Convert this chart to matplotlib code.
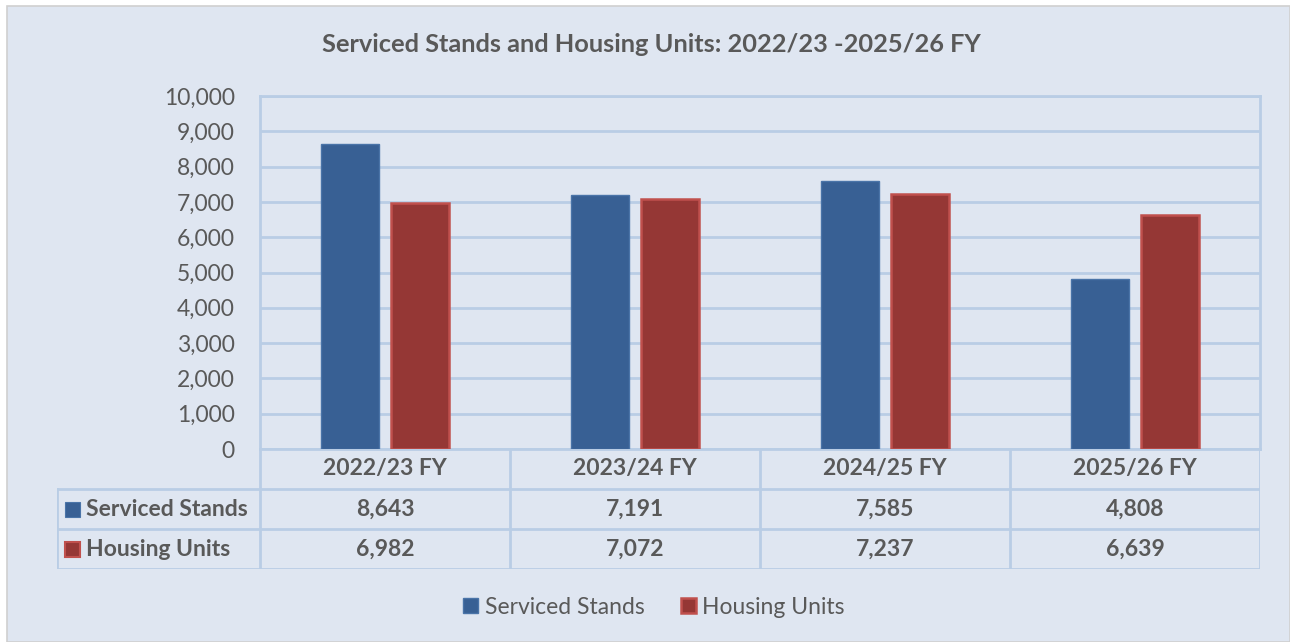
import matplotlib
matplotlib.use("Agg")
import matplotlib.pyplot as plt
from matplotlib.patches import Rectangle
from matplotlib.ticker import FuncFormatter, MultipleLocator

categories = ["2022/23 FY", "2023/24 FY", "2024/25 FY", "2025/26 FY"]
series_names = ["Serviced Stands", "Housing Units"]
serviced_stands = [8643, 7191, 7585, 4808]
housing_units = [6982, 7072, 7237, 6639]
title = "Serviced Stands and Housing Units: 2022/23 -2025/26 FY"

plt.rcParams['font.family'] = ['Lato', 'DejaVu Sans']

W, H = 1290, 642
DPI = 100
fig = plt.figure(figsize=(W / DPI, H / DPI), dpi=DPI, facecolor="white")

BG = "#dfe6f1"
GRID = "#b9cde5"
TXT = "#595959"
BLUE = "#386094"
BLUE_E = "#4a74a8"
RED = "#953735"
RED_E = "#c0504d"
FS = 16.5

def fx(px):
    return px / W

def fy(py):
    return 1 - py / H

# chart area background
bg = Rectangle((fx(7), 0), 1 - fx(7), fy(6), transform=fig.transFigure,
               facecolor=BG, edgecolor="#d0d0d0", linewidth=1.2, zorder=-10)
fig.patches.append(bg)

# main axes
L, R, T, B = 260, 1260, 96, 449
ax = fig.add_axes([fx(L), fy(B), fx(R) - fx(L), fy(T) - fy(B)])
ax.patch.set_alpha(0)
n = len(categories)
xs = list(range(n))
bw = 0.232
off = 0.141
ax.bar([x - off for x in xs], serviced_stands, width=bw, color=BLUE, edgecolor=BLUE_E,
       linewidth=1, zorder=3, label=series_names[0])
ax.bar([x + off for x in xs], housing_units, width=bw, color=RED, edgecolor=RED_E,
       linewidth=1.8, zorder=3, label=series_names[1])
ax.set_xlim(-0.5, n - 0.5)
ax.set_ylim(0, 10000)
ax.yaxis.set_major_locator(MultipleLocator(1000))
ax.yaxis.set_major_formatter(FuncFormatter(lambda v, p: f"{int(v):,}"))
ax.grid(axis="y", color=GRID, linewidth=2, zorder=0)
ax.tick_params(axis="y", length=0, pad=18, labelsize=FS, labelcolor=TXT)
ax.tick_params(axis="x", length=0, labelbottom=False)
for s in ["left", "right", "top", "bottom"]:
    ax.spines[s].set_color(GRID)
    ax.spines[s].set_linewidth(2)
ax.set_axisbelow(True)

# title
fig.text(fx(651), fy(45), title, ha="center", va="center", fontsize=18.3,
         fontweight="bold", color=TXT)

# data table
TL, TB = 57, 569
tax = fig.add_axes([fx(TL), fy(TB), fx(R) - fx(TL), fy(B) - fy(TB)])
tax.set_axis_off()
cat_px = (R - L) / n
left_units = -0.5 - (L - TL) / cat_px
tax.set_xlim(left_units, n - 0.5)
tax.set_ylim(3, 0)
lw = 2
for yy in [1, 2, 3]:
    tax.plot([left_units, n - 0.5], [yy, yy], color=GRID, lw=lw, solid_capstyle="projecting")
for xx in [i - 0.5 for i in range(n + 1)]:
    tax.plot([xx, xx], [0, 3], color=GRID, lw=lw)
tax.plot([left_units, left_units], [1, 3], color=GRID, lw=lw)

for i, c in enumerate(categories):
    tax.text(i, 0.5, c, ha="center", va="center", fontsize=FS, fontweight="bold", color=TXT)
    tax.text(i, 1.5, f"{serviced_stands[i]:,}", ha="center", va="center", fontsize=FS,
             fontweight="bold", color=TXT)
    tax.text(i, 2.5, f"{housing_units[i]:,}", ha="center", va="center", fontsize=FS,
             fontweight="bold", color=TXT)

sq_w = 15 / cat_px
sq_h = 15 / 40
for r, (name, fc, ec) in enumerate([(series_names[0], BLUE, BLUE_E), (series_names[1], RED, RED_E)]):
    yc = 1.5 + r
    x0 = left_units + 8 / cat_px
    tax.add_patch(Rectangle((x0, yc - sq_h / 2), sq_w, sq_h, facecolor=fc, edgecolor=ec,
                            linewidth=1.5 if r else 0.8))
    tax.text(x0 + sq_w + 6 / cat_px, yc, name, ha="left", va="center", fontsize=FS,
             fontweight="bold", color=TXT)

# legend
handles, labels = ax.get_legend_handles_labels()
leg = fig.legend(handles, labels, loc="center", bbox_to_anchor=(fx(654), fy(607)), ncol=2,
                 frameon=False, fontsize=FS, handlelength=0.65, handleheight=0.65,
                 handletextpad=0.28, columnspacing=1.6, labelcolor=TXT)

fig.savefig("out.png", dpi=DPI, facecolor="white")
